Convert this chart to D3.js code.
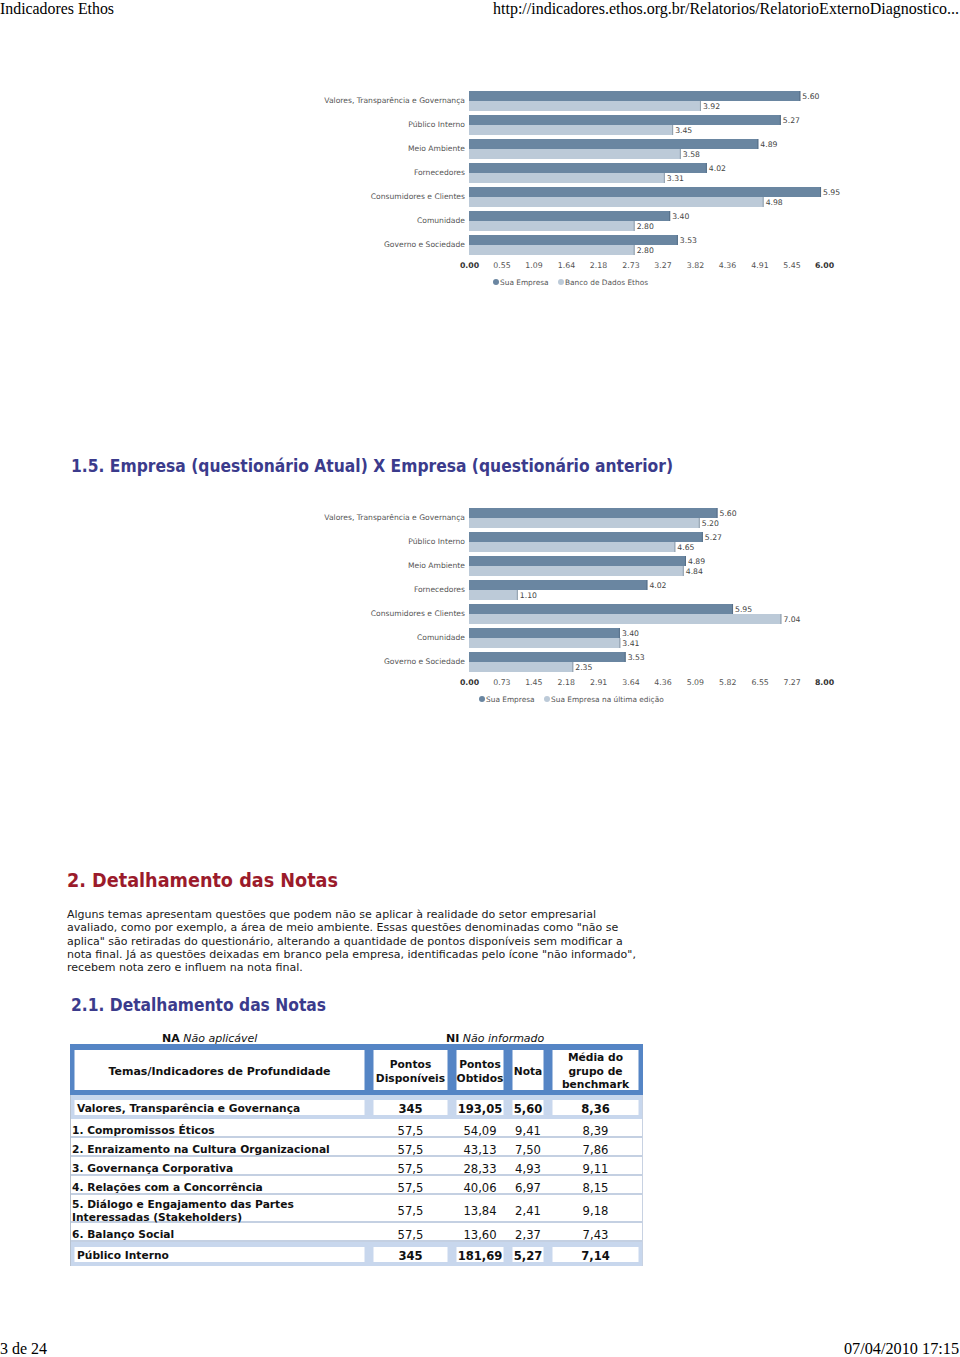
<!DOCTYPE html>
<html><head><meta charset="utf-8">
<script src="https://cdn.jsdelivr.net/npm/d3@7"></script>
<style>body{margin:0;background:#fff}svg{display:block}</style>
</head><body>
<svg id="page" width="960" height="1357"></svg>
<script>
// ---------- DATA ----------
const categories = ["Valores, Transparência e Governança","Público Interno","Meio Ambiente","Fornecedores","Consumidores e Clientes","Comunidade","Governo e Sociedade"];
const suaEmpresa = [5.60,5.27,4.89,4.02,5.95,3.40,3.53];
const bancoEthos = [3.92,3.45,3.58,3.31,4.98,2.80,2.80];
const ultimaEdicao = [5.20,4.65,4.84,1.10,7.04,3.41,2.35];
const ticks1 = [0,0.55,1.09,1.64,2.18,2.73,3.27,3.82,4.36,4.91,5.45,6.00];
const ticks2 = [0,0.73,1.45,2.18,2.91,3.64,4.36,5.09,5.82,6.55,7.27,8.00];
const legend1 = ["Sua Empresa","Banco de Dados Ethos"];
const legend2 = ["Sua Empresa","Sua Empresa na última edição"];

const tableHeaders = ["Temas/Indicadores de Profundidade","Pontos\nDisponíveis","Pontos\nObtidos","Nota","Média do\ngrupo de\nbenchmark"];
const rowKinds = ["section","item","item","item","item","item","item","section"];
const rowTemas = ["Valores, Transparência e Governança","1. Compromissos Éticos","2. Enraizamento na Cultura Organizacional","3. Governança Corporativa","4. Relações com a Concorrência","5. Diálogo e Engajamento das Partes\nInteressadas (Stakeholders)","6. Balanço Social","Público Interno"];
const rowPontosDisp = ["345","57,5","57,5","57,5","57,5","57,5","57,5","345"];
const rowPontosObt = ["193,05","54,09","43,13","28,33","40,06","13,84","13,60","181,69"];
const rowNota = ["5,60","9,41","7,50","4,93","6,97","2,41","2,37","5,27"];
const rowMedia = ["8,36","8,39","7,86","9,11","8,15","9,18","7,43","7,14"];

const paragraphLines = [
 "Alguns temas apresentam questões que podem não se aplicar à realidade do setor empresarial",
 "avaliado, como por exemplo, a área de meio ambiente. Essas questões denominadas como \"não se",
 "aplica\" são retiradas do questionário, alterando a quantidade de pontos disponíveis sem modificar a",
 "nota final. Já as questões deixadas em branco pela empresa, identificadas pelo ícone \"não informado\",",
 "recebem nota zero e influem na nota final."
];

// ---------- HELPERS ----------
const svg = d3.select("#page");
svg.append("rect").attr("width",960).attr("height",1357).attr("fill","#fff");
const SANS = "DejaVu Sans, Verdana, sans-serif";
function fitWidth(sel, w){ sel.attr("textLength", w).attr("lengthAdjust","spacingAndGlyphs"); }
function condense(sel, k){ sel.each(function(){ const L=this.getComputedTextLength(); if(L>0) d3.select(this).attr("textLength", L*k).attr("lengthAdjust","spacingAndGlyphs"); }); }

// ---------- PAGE HEADER / FOOTER ----------
const serif = "Liberation Serif, Times New Roman, serif";
svg.append("text").attr("x",0).attr("y",14).attr("font-family",serif).attr("font-size",16).attr("fill","#000").text("Indicadores Ethos").call(fitWidth,114);
svg.append("text").attr("x",959).attr("y",14).attr("text-anchor","end").attr("font-family",serif).attr("font-size",16).attr("fill","#000").text("http://indicadores.ethos.org.br/Relatorios/RelatorioExternoDiagnostico...").call(fitWidth,466);
svg.append("text").attr("x",0).attr("y",1354).attr("font-family",serif).attr("font-size",16).attr("fill","#000").text("3 de 24").call(fitWidth,47);
svg.append("text").attr("x",959).attr("y",1354).attr("text-anchor","end").attr("font-family",serif).attr("font-size",16).attr("fill","#000").text("07/04/2010 17:15").call(fitWidth,115);

// ---------- BAR CHARTS ----------
const barColors = ["#6a86a1","#bccad8"];
const edgeColors = ["#566f88","#8e9dab"];
function drawChart(top, domainMax, ticks, series, legend, legendX){
  const g = svg.append("g");
  const x = d3.scaleLinear().domain([0,domainMax]).range([469,824]);
  const y = d3.scaleBand().domain(categories).range([top-2, top-2+168]).paddingInner(1/6).paddingOuter(1/12);
  const ys = d3.scaleBand().domain([0,1]).range([0,y.bandwidth()]);
  series.forEach((vals, si) => {
    const sg = g.append("g");
    sg.selectAll("rect").data(vals).join("rect")
      .attr("x", x(0)).attr("y",(d,i)=>y(categories[i])+ys(si))
      .attr("width", d=>x(d)-x(0)).attr("height", ys.bandwidth())
      .attr("fill", barColors[si]);
    sg.selectAll("line").data(vals).join("line")
      .attr("x1", d=>x(d)-0.5).attr("x2", d=>x(d)-0.5)
      .attr("y1",(d,i)=>y(categories[i])+ys(si)).attr("y2",(d,i)=>y(categories[i])+ys(si)+ys.bandwidth())
      .attr("stroke", edgeColors[si]).attr("stroke-width",1);
    sg.selectAll("text").data(vals).join("text")
      .attr("x", d=>x(d)+2).attr("y",(d,i)=>y(categories[i])+ys(si)+ys.bandwidth()/2+0.8)
      .attr("dy","0.35em").attr("font-family",SANS).attr("font-size",7.7).attr("fill","#444")
      .text(d=>d.toFixed(2));
  });
  const ya = g.append("g").attr("transform",`translate(${x(0)-3},0)`)
    .call(d3.axisLeft(y).tickSize(0).tickPadding(1));
  ya.select(".domain").remove();
  ya.selectAll("text").attr("font-family",SANS).attr("font-size",7.6).attr("fill","#555");
  const xa = g.append("g").attr("transform",`translate(0,${top+171})`)
    .call(d3.axisBottom(x).tickValues(ticks).tickSize(0).tickPadding(0).tickFormat(d3.format(".2f")));
  xa.select(".domain").remove();
  xa.selectAll("text").attr("font-family",SANS).attr("font-size",7.8)
    .attr("font-weight",(d,i)=> (i===0||i===ticks.length-1) ? "bold":"normal")
    .attr("fill",(d,i)=> (i===0||i===ticks.length-1) ? "#333":"#555");
  const lg = g.append("g").attr("transform",`translate(0,${top+191})`);
  lg.selectAll("circle").data(legend).join("circle")
    .attr("cx",(d,i)=>legendX[i]).attr("cy",0).attr("r",3).attr("fill",(d,i)=>barColors[i]);
  lg.selectAll("text").data(legend).join("text")
    .attr("x",(d,i)=>legendX[i]+4).attr("y",0).attr("dy","0.35em")
    .attr("font-family",SANS).attr("font-size",7.4).attr("fill","#555").text(d=>d);
}
drawChart(91, 6, ticks1, [suaEmpresa, bancoEthos], legend1, [496,561]);
drawChart(508, 8, ticks2, [suaEmpresa, ultimaEdicao], legend2, [482,547]);

// ---------- HEADINGS & PARAGRAPH ----------
const blueHead = "#3b3b8c", redHead = "#9b1b2b";
svg.append("text").attr("x",71).attr("y",472).attr("font-family",SANS).attr("font-weight","bold").attr("font-size",17).attr("fill",blueHead)
  .text("1.5. Empresa (questionário Atual) X Empresa (questionário anterior)").call(fitWidth,602);
svg.append("text").attr("x",67).attr("y",887).attr("font-family",SANS).attr("font-weight","bold").attr("font-size",19).attr("fill",redHead)
  .text("2. Detalhamento das Notas").call(fitWidth,271);
const para = svg.append("g");
para.selectAll("text").data(paragraphLines).join("text")
  .attr("x",67).attr("y",(d,i)=>918+i*13.3).attr("font-family",SANS).attr("font-size",11).attr("fill","#1a1a1a").text(d=>d);
(function(){ const first = para.select("text").node(); const k = 529/first.getComputedTextLength(); para.selectAll("text").call(condense,k); })();
svg.append("text").attr("x",71).attr("y",1011).attr("font-family",SANS).attr("font-weight","bold").attr("font-size",17).attr("fill",blueHead)
  .text("2.1. Detalhamento das Notas").call(fitWidth,255);

// ---------- TABLE ----------
const tg = svg.append("g");
const FS = 11;
const tBlue = "#5585c5", tLight = "#c8d7ed", tSep = "#c4d0e2";
const colEdges = [70,369,452,508,548,643];
const inset = 3.5;
const cellX0 = i => colEdges[i]+inset, cellX1 = i => colEdges[i+1]-inset;
const cellCx = i => (cellX0(i)+cellX1(i))/2;
// NA / NI legends
const na = tg.append("text").attr("x",162).attr("y",1042).attr("font-family",SANS).attr("font-size",FS).attr("fill","#111");
na.append("tspan").attr("font-weight","bold").text("NA");
na.append("tspan").attr("font-style","italic").text(" Não aplicável");
const ni = tg.append("text").attr("x",446).attr("y",1042).attr("font-family",SANS).attr("font-size",FS).attr("fill","#111");
ni.append("tspan").attr("font-weight","bold").text("NI");
ni.append("tspan").attr("font-style","italic").text(" Não informado");

// header
const hTop = 1044, hBot = 1095;
tg.append("rect").attr("x",70).attr("y",hTop).attr("width",643-70).attr("height",hBot-hTop).attr("fill",tBlue);
tableHeaders.forEach((h,i)=>{
  tg.append("rect").attr("x",cellX0(i)+1).attr("y",hTop+6).attr("width",cellX1(i)-cellX0(i)-2).attr("height",hBot-hTop-11).attr("fill","#fff");
  const lines = h.split("\n");
  const cy = 1071;
  lines.forEach((ln,j)=>{
    const t = tg.append("text").attr("x",cellCx(i)).attr("y",cy+(j-(lines.length-1)/2)*13.5).attr("dy","0.36em")
      .attr("text-anchor","middle").attr("font-family",SANS).attr("font-weight","bold").attr("font-size",FS).attr("fill","#111")
      .text(ln);
    if(i>0) t.call(condense,0.97);
  });
});

// body rows
let yCur = hBot;
const rowCells = rowTemas.map((t,i)=>[t,rowPontosDisp[i],rowPontosObt[i],rowNota[i],rowMedia[i]]);
rowCells.forEach((cells,r)=>{
  const kind = rowKinds[r];
  const nLines = cells[0].split("\n").length;
  const h = kind==="section" ? 24 : (nLines>1 ? 28 : 19);
  const top = yCur, bot = yCur+h;
  if(kind==="section"){
    tg.append("rect").attr("x",70).attr("y",top).attr("width",573).attr("height",h).attr("fill",tLight);
    cells.forEach((c,i)=>{
      tg.append("rect").attr("x",cellX0(i)+1).attr("y",top+5).attr("width",cellX1(i)-cellX0(i)-2).attr("height",h-9).attr("fill","#fff");
    });
  } else {
    tg.append("rect").attr("x",70).attr("y",top).attr("width",573).attr("height",h).attr("fill","#fff");
    tg.append("rect").attr("x",70).attr("y",bot-2).attr("width",573).attr("height",2).attr("fill",tSep);
  }
  const cy = (top+bot)/2 + (kind==="section"?1.5:2);
  cells.forEach((c,i)=>{
    const lines = c.split("\n");
    lines.forEach((ln,j)=>{
      const t = tg.append("text")
        .attr("y", cy+(j-(lines.length-1)/2)*13).attr("dy","0.36em")
        .attr("font-family",SANS).attr("fill","#111")
        .attr("font-size", i===0 ? FS : 11.6)
        .attr("font-weight", (kind==="section"||i===0) ? "bold":"normal")
        .text(ln);
      if(i===0){ t.attr("x", kind==="section"?77:72).call(condense,0.97); }
      else { t.attr("x", cellCx(i)).attr("text-anchor","middle"); }
    });
  });
  yCur = bot;
});
// table side borders
tg.append("line").attr("x1",70.5).attr("x2",70.5).attr("y1",hBot).attr("y2",yCur).attr("stroke","#b8c2d0");
tg.append("line").attr("x1",642.5).attr("x2",642.5).attr("y1",hBot).attr("y2",yCur).attr("stroke","#c8d2e2");
</script>
</body></html>
